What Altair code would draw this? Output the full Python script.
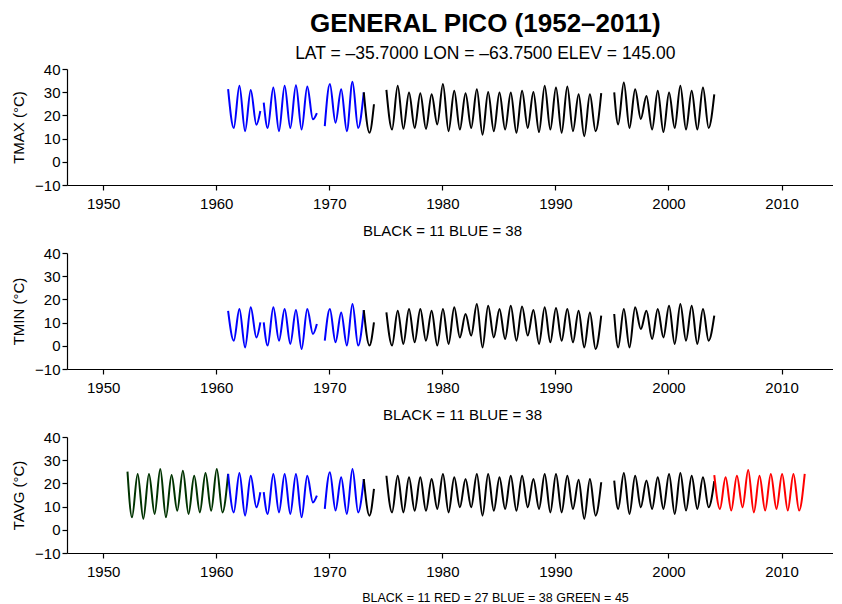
import altair as alt
import pandas as pd

# ---------------- data ----------------
# Each segment: colour, first grid time, values at half-year steps
# (January peak = YEAR+0.05, July trough = YEAR+0.55), optional exact
# time of the first / last (partial) point.
BLACK, BLUE, GREEN, RED = "#000000", "#0000FF", "#003300", "#FF0000"

YEAR_TICKS = [1950, 1960, 1970, 1980, 1990, 2000, 2010]
TEMP_TICKS = [-10, 0, 10, 20, 30, 40]

# ---- TMAX ----
tmax_blue_1 = [31.3, 14.6, 32.8, 13.2, 31.0, 16.0, 21.9]
tmax_blue_2 = [25.5, 14.6, 32.0, 13.2, 32.8, 14.6, 33.0, 13.9, 32.5, 18.3, 21.0]
tmax_blue_3 = [15.4, 33.5, 16.8, 31.3, 13.2, 34.5, 14.6, 29.9]
tmax_black_1 = [29.9, 12.5, 24.8]
tmax_black_2 = [31.0, 13.9, 32.8, 14.2, 29.9, 14.6, 29.6, 14.2, 29.1, 16.1,
                33.5, 13.2, 30.6, 13.9, 29.6, 14.6, 31.3, 11.7, 30.1, 13.2,
                29.9, 13.9, 29.9, 12.5, 30.6, 14.6, 30.1, 12.8, 32.8, 13.9,
                32.0, 12.5, 32.5, 13.2, 29.1, 11.0, 29.1, 13.2, 29.6]
tmax_black_3 = [29.9, 16.1, 34.2, 14.6, 31.3, 18.5, 28.4, 13.9, 30.6, 12.8,
                29.9, 14.6, 32.8, 13.9, 30.6, 13.9, 32.0, 14.6, 29.1]

# ---- TMIN ----
tmin_blue_1 = [15.1, 2.2, 15.9, -0.7, 16.6, 3.6, 10.1]
tmin_blue_2 = [10.1, 0.1, 16.6, 2.2, 15.9, 0.8, 15.4, -1.4, 15.9, 5.1, 9.4]
tmin_blue_3 = [2.2, 15.9, 1.5, 14.4, 0.1, 18.0, 0.1, 15.4]
tmin_black_1 = [15.4, 0.1, 10.1]
tmin_black_2 = [14.4, 0.1, 15.1, 0.8, 15.9, 1.5, 15.9, 2.2, 15.1, 0.1,
                15.9, 0.8, 16.6, 3.6, 13.7, 4.4, 18.0, -0.7, 17.3, 3.6,
                15.9, 2.9, 17.3, 2.2, 16.9, 4.4, 15.4, 0.8, 16.6, 1.5,
                16.3, 2.2, 15.9, 1.5, 15.1, -0.7, 14.4, -1.4, 13.0]
tmin_black_3 = [13.7, -0.7, 15.9, -0.7, 16.6, 7.2, 15.1, 2.9, 15.9, 3.6,
                17.3, 0.8, 18.0, 2.2, 17.3, 0.8, 15.9, 2.2, 13.0]

# ---- TAVG ----
tavg_green_1 = [25.1, 5.4, 24.1, 4.7, 24.1, 6.8, 26.2, 5.4, 23.6, 8.2,
                25.5, 6.8, 23.3, 7.5, 24.5, 8.2, 26.2, 7.5, 24.1]
tavg_blue_1 = [24.1, 7.5, 24.5, 6.1, 23.3, 9.7, 16.2]
tavg_blue_2 = [16.2, 6.8, 24.1, 7.5, 24.1, 6.8, 24.1, 5.4, 23.3, 11.8, 14.7]
tavg_blue_3 = [9.0, 24.8, 8.3, 22.6, 6.8, 26.2, 7.5, 21.9]
tavg_black_1 = [21.9, 6.1, 17.6]
tavg_black_2 = [23.3, 7.5, 23.3, 7.5, 22.6, 8.2, 22.6, 8.2, 21.9, 9.0,
                24.1, 7.5, 22.6, 9.7, 21.9, 9.7, 24.1, 6.1, 24.1, 8.2,
                22.6, 9.0, 23.3, 8.2, 23.3, 9.7, 21.9, 9.0, 24.1, 7.5,
                24.1, 7.5, 23.3, 9.0, 21.6, 4.7, 21.9, 6.1, 20.5]
tavg_black_3 = [21.2, 9.0, 24.5, 6.8, 23.3, 9.7, 21.2, 9.0, 22.6, 9.0,
                24.1, 6.8, 24.5, 8.3, 23.3, 9.0, 22.6, 9.7, 21.0]
tavg_red_1 = [23.6, 9.0, 22.6, 8.3, 23.3, 9.7, 25.8, 7.5, 23.3, 8.3,
              24.1, 9.0, 24.1, 8.3, 24.1, 8.3, 24.1]

TMAX_SEGS = [
    (BLUE, 1961.05, tmax_blue_1, None, 1963.9),
    (BLUE, 1964.05, tmax_blue_2, 1964.2, 1968.9),
    (BLUE, 1969.55, tmax_blue_3, 1969.6, None),
    (BLACK, 1973.05, tmax_black_1, None, 1973.95),
    (BLACK, 1975.05, tmax_black_2, None, None),
    (BLACK, 1995.05, tmax_black_3, 1995.2, None),
]
TMIN_SEGS = [
    (BLUE, 1961.05, tmin_blue_1, None, 1963.9),
    (BLUE, 1964.05, tmin_blue_2, 1964.2, 1968.9),
    (BLUE, 1969.55, tmin_blue_3, 1969.6, None),
    (BLACK, 1973.05, tmin_black_1, None, 1973.95),
    (BLACK, 1975.05, tmin_black_2, None, None),
    (BLACK, 1995.05, tmin_black_3, 1995.2, None),
]
TAVG_SEGS = [
    (GREEN, 1952.05, tavg_green_1, 1952.15, None),
    (BLUE, 1961.05, tavg_blue_1, None, 1963.9),
    (BLUE, 1964.05, tavg_blue_2, 1964.2, 1968.9),
    (BLUE, 1969.55, tavg_blue_3, 1969.6, None),
    (BLACK, 1973.05, tavg_black_1, None, 1973.95),
    (BLACK, 1975.05, tavg_black_2, None, None),
    (BLACK, 1995.05, tavg_black_3, 1995.2, None),
    (RED, 2004.05, tavg_red_1, None, None),
]


def build(segs):
    rows = []
    for k, (col, start, vals, first_t, last_t) in enumerate(segs):
        n = len(vals)
        for i, v in enumerate(vals):
            t = start + 0.5 * i
            if i == 0 and first_t is not None:
                t = first_t
            if i == n - 1 and last_t is not None:
                t = last_t
            rows.append({"t": t, "v": v, "seg": k, "c": col})
    return pd.DataFrame(rows)


FONT = "Liberation Sans"


def panel(df, ytitle, xtitle, title_x, title_size=15, title_pad=12):
    return alt.Chart(df).mark_line(strokeWidth=2.0, interpolate="monotone").encode(
        x=alt.X("t:Q",
                scale=alt.Scale(domain=[1946.8, 2014.55], nice=False, zero=False),
                axis=alt.Axis(values=YEAR_TICKS, format="d", title=xtitle,
                              titleX=title_x, titleAlign="center",
                              titleFontSize=title_size,
                              labelPadding=6, titlePadding=title_pad)),
        y=alt.Y("v:Q",
                scale=alt.Scale(domain=[-10, 40], nice=False, zero=False),
                axis=alt.Axis(values=TEMP_TICKS, title=ytitle, titlePadding=8)),
        color=alt.Color("c:N", scale=None),
        detail="seg:N",
        order="t:Q",
    ).properties(width=766, height=116)


p1 = panel(build(TMAX_SEGS), "TMAX (°C)", "BLACK = 11 BLUE = 38", 375)
p2 = panel(build(TMIN_SEGS), "TMIN (°C)", "BLACK = 11 BLUE = 38", 395)
p3 = panel(build(TAVG_SEGS), "TAVG (°C)", "BLACK = 11 RED = 27 BLUE = 38 GREEN = 45",
           428, title_size=12.5, title_pad=12)

chart = alt.vconcat(p1, p2, p3, spacing=8).properties(
    title=alt.TitleParams(
        text="GENERAL PICO (1952–2011)",
        subtitle="LAT = –35.7000 LON = –63.7500 ELEV = 145.00",
        anchor="middle", dx=63, fontSize=26, subtitleFontSize=17.5,
        font=FONT, subtitleFont=FONT, fontWeight="bold", color="black",
        subtitleColor="black", subtitlePadding=8, offset=0,
    ),
    padding={"left": 3, "top": 2, "right": 0, "bottom": 0},
).configure_view(stroke=None).configure_axis(
    grid=False, domainColor="black", tickColor="black", labelColor="black",
    titleColor="black", labelFont=FONT, titleFont=FONT, labelFontSize=15,
    titleFontSize=15, titleFontWeight="normal", tickSize=5, domainWidth=1.2,
    tickWidth=1.2,
)

chart.save("out.html", embed_options={"renderer": "svg", "actions": False})
